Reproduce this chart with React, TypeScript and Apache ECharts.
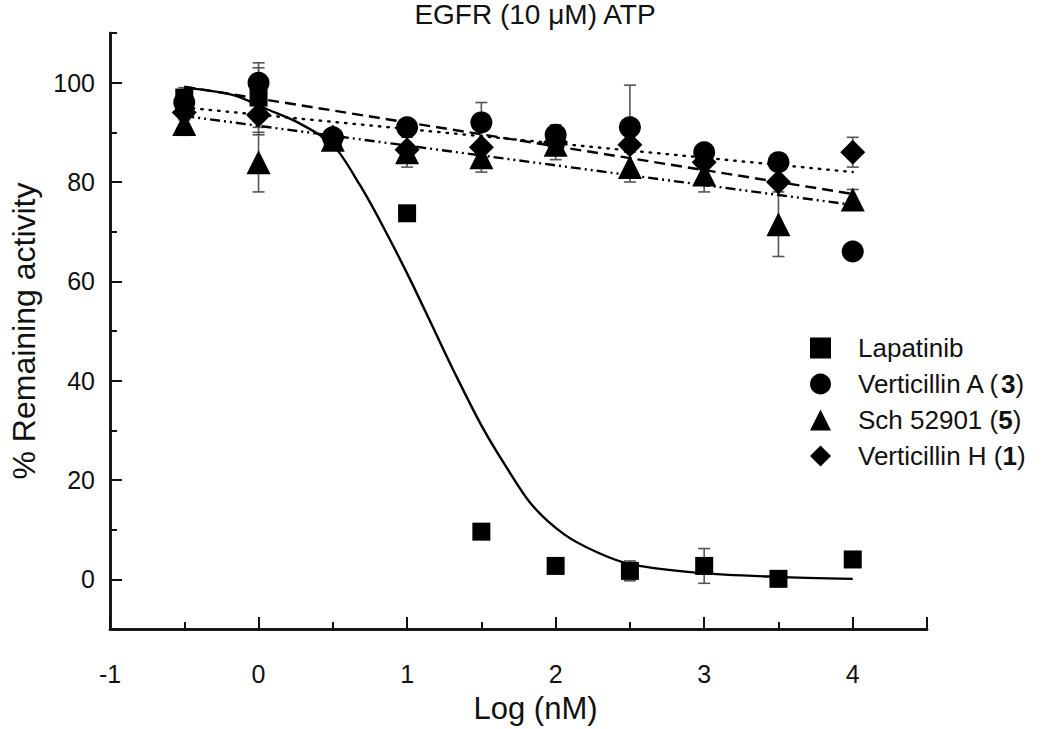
import React, { useEffect, useRef } from "react";
import * as echarts from "echarts";

// ---- data ----
const logConc = [-0.5, 0, 0.5, 1, 1.5, 2, 2.5, 3, 3.5, 4];

const lapatinib = [97, 97, 88.5, 73.7, 9.6, 2.7, 1.7, 2.7, 0.1, 4.0];
const lapatinibErr = [1.5, 6, 1, 1, 0.5, 0.5, 2, 3.5, 0.5, 0.5];

const verticillinA = [96, 100, 89, 91, 92, 89.5, 91, 86, 84, 66];
const verticillinAErr = [3, 4, 1, 1, 4, 1, 8.5, 1, 1, 0.5];

const sch52901 = [91.7, 84, 88.5, 86, 85, 87.5, 83, 81.5, 71.5, 76.5];
const sch52901Err = [2.3, 6, 1, 3, 3, 1, 3, 3.5, 6.5, 2];

const verticillinH = [94, 93.5, 89, 86.5, 87, 88, 87.5, 84, 80, 86];
const verticillinHErr = [1.5, 4, 1, 1, 1, 3.5, 1, 1, 1, 3];

// fitted dose-response curve for Lapatinib
const lapatinibFit: [number, number][] = [
  [-0.5, 99.0], [-0.17, 97.5], [0.07, 94.5], [0.27, 91.9], [0.5, 87.5],
  [0.68, 79.5], [0.83, 71.5], [1.01, 61], [1.17, 51], [1.32, 41.6],
  [1.5, 31], [1.66, 23], [1.84, 15], [2.06, 9], [2.29, 5.3],
  [2.51, 3], [2.96, 1.3], [3.49, 0.5], [4.0, 0.1],
];

// linear fits (end points)
const verticillinAFit: [number, number][] = [[-0.5, 99.2], [4, 77.6]];
const verticillinHFit: [number, number][] = [[-0.5, 95.0], [4, 82.0]];
const sch52901Fit: [number, number][] = [[-0.5, 93.3], [4, 75.4]];

const xTicksMin = -1;
const xTicksMax = 4.5;
const yTicksMin = -10;
const yTicksMax = 110;

const seriesNames = ["Lapatinib", "Verticillin A (3)", "Sch 52901 (5)", "Verticillin H (1)"];

const FONT = "Liberation Sans, Arial, sans-serif";
const INK = "#111";

function errData(vals: number[], errs: number[]) {
  return logConc.map((x, i) => [x, vals[i] - errs[i], vals[i] + errs[i]]);
}
function pts(vals: number[]) {
  return logConc.map((x, i) => [x, vals[i]]);
}

const errorRender = (params: any, api: any) => {
  const x = api.value(0);
  const top = api.coord([x, api.value(2)]);
  const bot = api.coord([x, api.value(1)]);
  const w = 6;
  const st = { stroke: "#555", lineWidth: 1.6 };
  return {
    type: "group",
    children: [
      { type: "line", shape: { x1: top[0], y1: top[1], x2: bot[0], y2: bot[1] }, style: st },
      { type: "line", shape: { x1: top[0] - w, y1: top[1], x2: top[0] + w, y2: top[1] }, style: st },
      { type: "line", shape: { x1: bot[0] - w, y1: bot[1], x2: bot[0] + w, y2: bot[1] }, style: st },
    ],
  };
};

export default function App() {
  const ref = useRef<HTMLDivElement>(null);
  useEffect(() => {
    if (!ref.current) return;
    const chart = echarts.init(ref.current, undefined, { renderer: "svg" });
    const scatter = (name: string, data: number[], symbol: string, size: number) => ({
      name,
      type: "scatter",
      data: pts(data),
      symbol,
      symbolSize: size,
      itemStyle: { color: "#000", opacity: 1 },
      z: 5,
    });
    const errSeries = (vals: number[], errs: number[]) => ({
      type: "custom",
      renderItem: errorRender,
      data: errData(vals, errs),
      z: 1,
      silent: true,
    });
    const fitLine = (data: [number, number][], type: any, smooth: any = false, cap = "butt") => ({
      type: "line",
      data,
      showSymbol: false,
      smooth,
      lineStyle: { color: "#000", width: 2.4, type, cap },
      z: 3,
      silent: true,
    });
    const axisLine = { show: true, onZero: false, lineStyle: { color: INK, width: 2.5 } };
    chart.setOption({
      animation: false,
      backgroundColor: "#fff",
      textStyle: { fontFamily: FONT },
      title: {
        text: "EGFR (10 μM) ATP",
        left: 535,
        top: 0,
        padding: 0,
        textAlign: "center",
        textStyle: { fontFamily: FONT, fontSize: 28, fontWeight: "normal", color: INK },
      },
      grid: { left: 107, right: 123, top: 33, bottom: 95 },
      legend: {
        orient: "vertical",
        left: 805,
        top: 330,
        itemWidth: 21,
        itemHeight: 21,
        itemGap: 10,
        data: seriesNames,
        selectedMode: false,
        formatter: (name: string) => {
          const m = name.match(/^(.*)\((\d)\)$/);
          return m ? `${m[1]}({b|${m[2]}})` : name;
        },
        textStyle: {
          fontFamily: FONT,
          fontSize: 26,
          color: INK,
          padding: [0, 0, 0, 22],
          rich: { b: { fontFamily: FONT, fontSize: 26, fontWeight: "bold", color: INK } },
        },
      },
      xAxis: [
        {
          type: "value",
          min: xTicksMin,
          max: xTicksMax,
          interval: 0.5,
          position: "bottom",
          axisLine,
          axisTick: { show: true, inside: true, length: 7, lineStyle: { color: INK, width: 2 } },
          axisLabel: { show: false },
          splitLine: { show: false },
        },
        {
          type: "value",
          min: xTicksMin,
          max: xTicksMax,
          interval: 1,
          position: "bottom",
          offset: 0,
          name: "Log (nM)",
          nameLocation: "middle",
          nameGap: 64,
          nameTextStyle: { fontFamily: FONT, fontSize: 31, color: INK, padding: [0, 0, 0, 34] },
          axisLine,
          axisTick: { show: true, inside: true, length: 12, lineStyle: { color: INK, width: 2 } },
          axisLabel: {
            margin: 32,
            fontFamily: FONT,
            fontSize: 25,
            color: INK,
            formatter: (v: number) => (Number.isInteger(v) ? String(v) : ""),
          },
          splitLine: { show: false },
        },
      ],
      yAxis: [
        {
          type: "value",
          min: yTicksMin,
          max: yTicksMax,
          interval: 10,
          position: "left",
          axisLine,
          axisTick: { show: true, inside: true, length: 7, lineStyle: { color: INK, width: 2 } },
          axisLabel: { show: false },
          splitLine: { show: false },
          name: "% Remaining activity",
          nameLocation: "middle",
          nameRotate: 90,
          nameGap: 70,
          nameTextStyle: { fontFamily: FONT, fontSize: 32, color: INK },
        },
        {
          type: "value",
          min: yTicksMin,
          max: yTicksMax,
          position: "left",
          offset: 0,
          axisLine,
          axisTick: { show: true, inside: true, length: 12, lineStyle: { color: INK, width: 2 } },
          axisLabel: {
            margin: 15,
            fontFamily: FONT,
            fontSize: 25,
            color: INK,
            showMinLabel: false,
            showMaxLabel: false,
            formatter: (v: number) => (v >= 0 && v <= 100 && v % 20 === 0 ? String(v) : ""),
          },
          splitLine: { show: false },
        },
      ],
      series: [
        errSeries(lapatinib, lapatinibErr),
        errSeries(verticillinA, verticillinAErr),
        errSeries(sch52901, sch52901Err),
        errSeries(verticillinH, verticillinHErr),
        fitLine(lapatinibFit, "solid", 0.3),
        fitLine(verticillinAFit, [11, 6]),
        fitLine(verticillinHFit, [1.5, 7], false, "round"),
        fitLine(sch52901Fit, [10, 4, 2, 4, 2, 4]),
        scatter(seriesNames[0], lapatinib, "rect", 18),
        scatter(seriesNames[1], verticillinA, "circle", 22),
        scatter(seriesNames[2], sch52901, "triangle", 24),
        scatter(seriesNames[3], verticillinH, "diamond", 25),
      ],
    });
    return () => chart.dispose();
  }, []);
  return (
    <div
      ref={ref}
      style={{ position: "fixed", left: 0, top: 0, width: 1050, height: 729, background: "#fff" }}
    />
  );
}
